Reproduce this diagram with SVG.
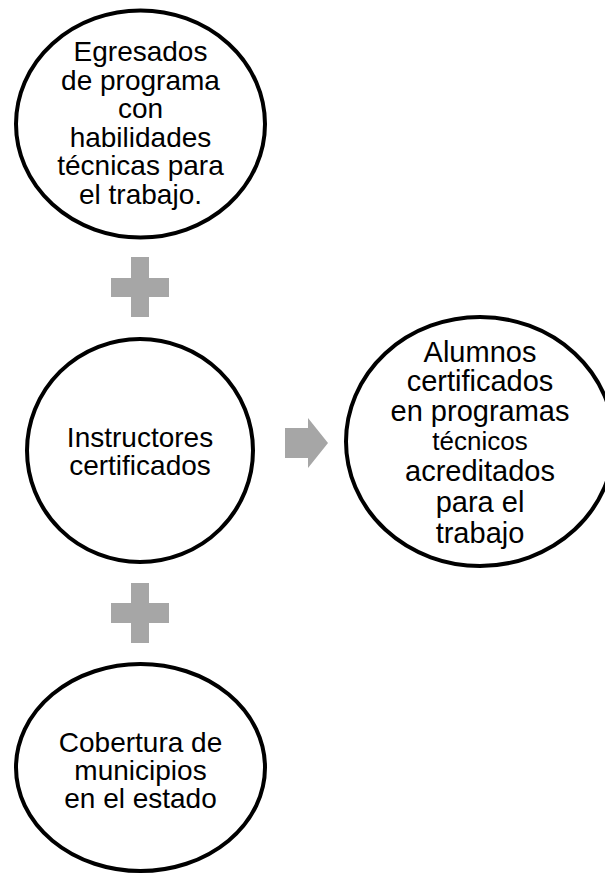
<svg xmlns="http://www.w3.org/2000/svg" width="605" height="873" viewBox="0 0 605 873">
<style>
.node{fill:#fff;stroke:#000;stroke-width:4}
.t{font-family:"Liberation Sans",Arial,sans-serif;font-size:28px;fill:#000;text-anchor:middle}
.tr{font-size:29px}
.sm{font-size:26px}
.conn{fill:#A6A6A6}
</style>
<rect width="605" height="873" fill="#fff"/>
<g id="connectors">
<path class="conn" d="M131 257H149V278H169V297H149V317H131V297H111V278H131Z"/>
<path class="conn" d="M131 583H149V603H169V623H149V643H131V623H111V603H131Z"/>
<path class="conn" d="M285 428H308V418L328 443L308 468V458H285Z"/>
</g>
<g id="node-egresados">
<ellipse class="node" cx="140.5" cy="124" rx="124.5" ry="113.5"/>
<text class="t" x="140.5" y="61">Egresados</text>
<text class="t" x="140.5" y="89.5">de programa</text>
<text class="t" x="140.5" y="118">con</text>
<text class="t" x="140.5" y="146.5">habilidades</text>
<text class="t" x="140.5" y="175">técnicas para</text>
<text class="t" x="140.5" y="203.5">el trabajo.</text>
</g>
<g id="node-instructores">
<ellipse class="node" cx="140" cy="450.5" rx="113" ry="111.5"/>
<text class="t" x="140" y="447">Instructores</text>
<text class="t" x="140" y="475">certificados</text>
</g>
<g id="node-cobertura">
<ellipse class="node" cx="140.5" cy="767.5" rx="124.5" ry="103.5"/>
<text class="t" x="140.5" y="752">Cobertura de</text>
<text class="t" x="140.5" y="780">municipios</text>
<text class="t" x="140.5" y="808">en el estado</text>
</g>
<g id="node-alumnos">
<ellipse class="node" cx="480" cy="441.5" rx="134" ry="124.5"/>
<text class="t tr" x="480" y="361.5">Alumnos</text>
<text class="t tr" x="480" y="391">certificados</text>
<text class="t tr" x="480" y="421">en programas</text>
<text class="t sm" x="480" y="450">técnicos</text>
<text class="t tr" x="480" y="481">acreditados</text>
<text class="t tr" x="480" y="512">para el</text>
<text class="t tr" x="480" y="543">trabajo</text>
</g>
</svg>
